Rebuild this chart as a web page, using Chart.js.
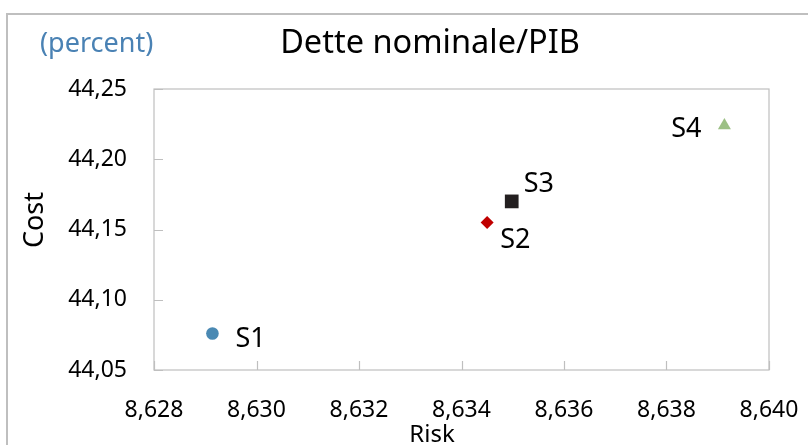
<!DOCTYPE html>
<html>
<head>
<meta charset="utf-8">
<script src="https://cdn.jsdelivr.net/npm/chart.js@4.4.1/dist/chart.umd.min.js"></script>
<style>
  html, body { margin: 0; padding: 0; background: #fff; }
  #wrap { position: relative; width: 808px; height: 445px; }
</style>
</head>
<body>
<div id="wrap"><canvas id="riskCost" width="808" height="445"></canvas></div>
<script>
// data
var seriesNames = ['S1', 'S2', 'S3', 'S4'];
var riskValues  = [8.62914, 8.6345, 8.63498, 8.63913];
var costValues  = [44.076, 44.155, 44.170, 44.224];
var xTickValues = [8.628, 8.630, 8.632, 8.634, 8.636, 8.638, 8.640];
var yTickValues = [44.05, 44.10, 44.15, 44.20, 44.25];

var chartTitle = 'Dette nominale/PIB';
var unitLabel  = '(percent)';
var xTitle     = 'Risk';
var yTitle     = 'Cost';

// marker look per series
var markerStyles = [
  { pointStyle: 'circle',   color: '#4a89b3', radius: 6.3 },
  { pointStyle: 'rectRot',  color: '#c00000', radius: 6.5 },
  { pointStyle: 'rect',     color: '#231f20', radius: 9.7 },
  { pointStyle: 'triangle', color: '#9cc085', radius: 7.5 }
];
// where each label sits next to its marker (dx, dy to baseline, alignment)
var labelPlacement = [
  { dx: 23,  dy: 14, align: 'left' },
  { dx: 13,  dy: 26, align: 'left' },
  { dx: 12,  dy: -9, align: 'left' },
  { dx: -23, dy: 11, align: 'right' }
];

var FONT = '"Noto Sans", "Open Sans", sans-serif';
var frameColor = '#bfbfbf';

function commaNum(v, digits) {
  return Number(v).toFixed(digits).replace('.', ',');
}

var datasets = seriesNames.map(function (name, i) {
  var st = markerStyles[i];
  return {
    label: name,
    data: [{ x: riskValues[i], y: costValues[i] }],
    pointStyle: st.pointStyle,
    pointRadius: st.radius,
    pointHoverRadius: st.radius,
    backgroundColor: st.color,
    borderColor: st.color,
    borderWidth: 0
  };
});

var decorPlugin = {
  id: 'decor',
  afterDraw: function (chart) {
    var ctx = chart.ctx;
    var area = chart.chartArea;
    var xs = chart.scales.x, ys = chart.scales.y;
    ctx.save();

    // outer frame (only top and left show)
    ctx.strokeStyle = frameColor;
    ctx.lineWidth = 2;
    ctx.beginPath();
    ctx.moveTo(7, 445);
    ctx.lineTo(7, 14);
    ctx.lineTo(808, 14);
    ctx.stroke();

    // plot box
    ctx.lineWidth = 1.2;
    ctx.strokeRect(area.left, area.top, area.right - area.left, area.bottom - area.top);

    // inward tick marks
    ctx.beginPath();
    xs.ticks.forEach(function (t) {
      var px = Math.round(xs.getPixelForValue(t.value)) + 0.5;
      ctx.moveTo(px, area.bottom);
      ctx.lineTo(px, area.bottom - 9);
    });
    ys.ticks.forEach(function (t) {
      var py = Math.round(ys.getPixelForValue(t.value)) + 0.5;
      ctx.moveTo(area.left, py);
      ctx.lineTo(area.left + 9, py);
    });
    ctx.stroke();

    // titles
    ctx.fillStyle = '#000';
    ctx.textBaseline = 'alphabetic';
    ctx.textAlign = 'center';
    ctx.font = '32.5px ' + FONT;
    ctx.fillText(chartTitle, 430, 53);

    ctx.textAlign = 'left';
    ctx.fillStyle = '#4a82b4';
    ctx.font = '27px ' + FONT;
    ctx.fillText(unitLabel, 40, 52);

    ctx.fillStyle = '#000';
    ctx.textAlign = 'center';
    ctx.font = '24px ' + FONT;
    ctx.fillText(xTitle, 432, 442);

    ctx.save();
    ctx.translate(43, 220);
    ctx.rotate(-Math.PI / 2);
    ctx.font = '27px ' + FONT;
    ctx.fillText(yTitle, 0, 0);
    ctx.restore();

    // series labels beside the markers
    ctx.font = '27px ' + FONT;
    chart.data.datasets.forEach(function (ds, i) {
      var pt = chart.getDatasetMeta(i).data[0];
      var pl = labelPlacement[i];
      ctx.textAlign = pl.align;
      ctx.fillText(ds.label, pt.x + pl.dx, pt.y + pl.dy);
    });

    ctx.restore();
  }
};

new Chart(document.getElementById('riskCost').getContext('2d'), {
  type: 'scatter',
  data: { datasets: datasets },
  options: {
    responsive: false,
    animation: false,
    layout: { padding: { top: 89, right: 39, left: 0, bottom: 0 } },
    plugins: {
      legend: { display: false },
      tooltip: { enabled: false },
      title: { display: false }
    },
    scales: {
      x: {
        type: 'linear',
        min: 8.628,
        max: 8.640,
        grid: { display: false, drawTicks: false },
        border: { display: false },
        afterBuildTicks: function (scale) {
          scale.ticks = xTickValues.map(function (v) { return { value: v }; });
        },
        afterFit: function (scale) {
          scale.height = 75;
          scale.paddingLeft = 0;
          scale.paddingRight = 0;
        },
        ticks: {
          padding: 27,
          color: '#000',
          maxRotation: 0,
          autoSkip: false,
          font: { family: FONT, size: 23 },
          callback: function (v) { return commaNum(v, 3); }
        }
      },
      y: {
        type: 'linear',
        min: 44.05,
        max: 44.25,
        grid: { display: false, drawTicks: false },
        border: { display: false },
        afterBuildTicks: function (scale) {
          scale.ticks = yTickValues.map(function (v) { return { value: v }; });
        },
        afterFit: function (scale) {
          scale.width = 154;
          scale.paddingTop = 0;
          scale.paddingBottom = 0;
        },
        ticks: {
          padding: 27,
          color: '#000',
          autoSkip: false,
          font: { family: FONT, size: 23 },
          callback: function (v) { return commaNum(v, 2); }
        }
      }
    }
  },
  plugins: [decorPlugin]
});
</script>
</body>
</html>
